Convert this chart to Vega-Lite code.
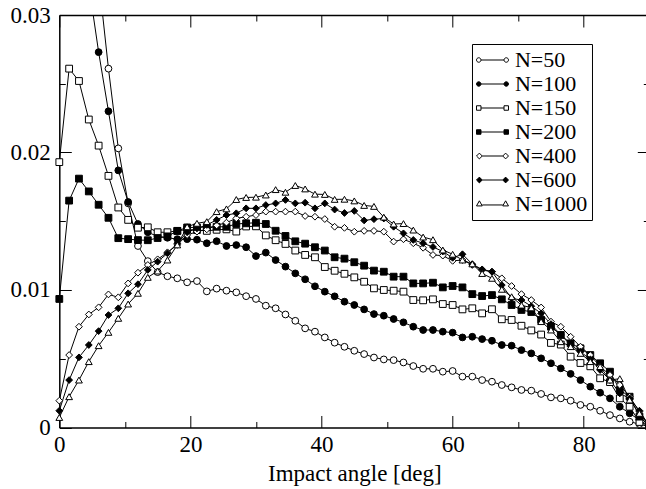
{
  "$schema": "https://vega.github.io/schema/vega-lite/v6.json",
  "width": 590,
  "height": 412.5,
  "autosize": {"type": "none"},
  "padding": {"left": 59.3, "top": 15, "right": 0, "bottom": 62},
  "background": "white",
  "data": {"values": [
    {"a":0,"N=50":0.060,"N=100":0.055,"N=150":0.0193,"N=200":0.00935,"N=400":0.00195,"N=600":0.00122,"N=1000":0.00073},
    {"a":1.5,"N=50":0.056,"N=100":0.050,"N=150":0.0261,"N=200":0.0165,"N=400":0.00527,"N=600":0.00345,"N=1000":0.00224},
    {"a":3,"N=50":0.050,"N=100":0.042,"N=150":0.0252,"N=200":0.0181,"N=400":0.00733,"N=600":0.0051,"N=1000":0.00345},
    {"a":4.5,"N=50":0.042,"N=100":0.0322,"N=150":0.0224,"N=200":0.01717,"N=400":0.00822,"N=600":0.006,"N=1000":0.00479},
    {"a":6,"N=50":0.0327,"N=100":0.0273,"N=150":0.0205,"N=200":0.0162,"N=400":0.00874,"N=600":0.00701,"N=1000":0.00595},
    {"a":7.5,"N=50":0.0261,"N=100":0.0230,"N=150":0.0183,"N=200":0.01525,"N=400":0.00968,"N=600":0.00818,"N=1000":0.00692},
    {"a":9,"N=50":0.0203,"N=100":0.0187,"N=150":0.0160,"N=200":0.01377,"N=400":0.00947,"N=600":0.00867,"N=1000":0.00794},
    {"a":10.5,"N=50":0.0163,"N=100":0.0164,"N=150":0.0151,"N=200":0.0137,"N=400":0.01048,"N=600":0.00976,"N=1000":0.00898},
    {"a":12,"N=50":0.0132,"N=100":0.0148,"N=150":0.01453,"N=200":0.01363,"N=400":0.01126,"N=600":0.01042,"N=1000":0.00976},
    {"a":13.5,"N=50":0.0121,"N=100":0.0142,"N=150":0.01456,"N=200":0.01362,"N=400":0.01182,"N=600":0.01146,"N=1000":0.01092},
    {"a":15,"N=50":0.0113,"N=100":0.0139,"N=150":0.0142,"N=200":0.01378,"N=400":0.01223,"N=600":0.01206,"N=1000":0.01138},
    {"a":16.5,"N=50":0.0110,"N=100":0.0138,"N=150":0.0142,"N=200":0.0139,"N=400":0.01274,"N=600":0.01267,"N=1000":0.01218},
    {"a":18,"N=50":0.01085,"N=100":0.0137,"N=150":0.0143,"N=200":0.0143,"N=400":0.01328,"N=600":0.0134,"N=1000":0.01328},
    {"a":19.5,"N=50":0.01056,"N=100":0.0137,"N=150":0.0144,"N=200":0.01455,"N=400":0.0140,"N=600":0.0142,"N=1000":0.0146},
    {"a":21,"N=50":0.01065,"N=100":0.01366,"N=150":0.01436,"N=200":0.01455,"N=400":0.01424,"N=600":0.01448,"N=1000":0.01485},
    {"a":22.5,"N=50":0.0099,"N=100":0.0134,"N=150":0.0143,"N=200":0.01458,"N=400":0.01441,"N=600":0.01473,"N=1000":0.01497},
    {"a":24,"N=50":0.0101,"N=100":0.01355,"N=150":0.01438,"N=200":0.0146,"N=400":0.0147,"N=600":0.0151,"N=1000":0.0157},
    {"a":25.5,"N=50":0.00995,"N=100":0.0132,"N=150":0.01441,"N=200":0.0146,"N=400":0.0149,"N=600":0.01545,"N=1000":0.0159},
    {"a":27,"N=50":0.00983,"N=100":0.01327,"N=150":0.01425,"N=200":0.0148,"N=400":0.01521,"N=600":0.01558,"N=1000":0.01658},
    {"a":28.5,"N=50":0.00955,"N=100":0.01311,"N=150":0.01462,"N=200":0.01485,"N=400":0.01533,"N=600":0.01594,"N=1000":0.01673},
    {"a":30,"N=50":0.00935,"N=100":0.01247,"N=150":0.01463,"N=200":0.01489,"N=400":0.01545,"N=600":0.01594,"N=1000":0.01675},
    {"a":31.5,"N=50":0.00886,"N=100":0.01272,"N=150":0.01397,"N=200":0.0148,"N=400":0.0157,"N=600":0.01618,"N=1000":0.01691},
    {"a":33,"N=50":0.00867,"N=100":0.01218,"N=150":0.01362,"N=200":0.01431,"N=400":0.0157,"N=600":0.0163,"N=1000":0.0173},
    {"a":34.5,"N=50":0.00822,"N=100":0.0117,"N=150":0.01335,"N=200":0.01393,"N=400":0.0157,"N=600":0.01655,"N=1000":0.01711},
    {"a":36,"N=50":0.00776,"N=100":0.01121,"N=150":0.01287,"N=200":0.01354,"N=400":0.0157,"N=600":0.0163,"N=1000":0.0176},
    {"a":37.5,"N=50":0.00721,"N=100":0.01078,"N=150":0.01255,"N=200":0.01337,"N=400":0.01538,"N=600":0.01635,"N=1000":0.01735},
    {"a":39,"N=50":0.00697,"N=100":0.01027,"N=150":0.01238,"N=200":0.01311,"N=400":0.01533,"N=600":0.01594,"N=1000":0.01697},
    {"a":40.5,"N=50":0.00655,"N=100":0.00988,"N=150":0.01167,"N=200":0.01287,"N=400":0.01516,"N=600":0.0163,"N=1000":0.01695},
    {"a":42,"N=50":0.00617,"N=100":0.00954,"N=150":0.0114,"N=200":0.01238,"N=400":0.0146,"N=600":0.01585,"N=1000":0.01659},
    {"a":43.5,"N=50":0.00587,"N=100":0.00915,"N=150":0.01118,"N=200":0.01228,"N=400":0.01452,"N=600":0.0156,"N=1000":0.0166},
    {"a":45,"N=50":0.00558,"N=100":0.00891,"N=150":0.01092,"N=200":0.01202,"N=400":0.01424,"N=600":0.01575,"N=1000":0.01648},
    {"a":46.5,"N=50":0.00534,"N=100":0.00859,"N=150":0.0106,"N=200":0.01177,"N=400":0.0143,"N=600":0.01506,"N=1000":0.01615},
    {"a":48,"N=50":0.00509,"N=100":0.00825,"N=150":0.01012,"N=200":0.01141,"N=400":0.0143,"N=600":0.01515,"N=1000":0.01608},
    {"a":49.5,"N=50":0.00495,"N=100":0.00813,"N=150":0.01,"N=200":0.01133,"N=400":0.01424,"N=600":0.0152,"N=1000":0.0153},
    {"a":51,"N=50":0.0049,"N=100":0.00789,"N=150":0.00995,"N=200":0.01097,"N=400":0.01352,"N=600":0.0146,"N=1000":0.0148},
    {"a":52.5,"N=50":0.00473,"N=100":0.00765,"N=150":0.00988,"N=200":0.01097,"N=400":0.01369,"N=600":0.01412,"N=1000":0.01483},
    {"a":54,"N=50":0.00447,"N=100":0.00733,"N=150":0.00927,"N=200":0.01048,"N=400":0.0134,"N=600":0.01364,"N=1000":0.01436},
    {"a":55.5,"N=50":0.00427,"N=100":0.00709,"N=150":0.00925,"N=200":0.01048,"N=400":0.01307,"N=600":0.0134,"N=1000":0.01385},
    {"a":57,"N=50":0.00427,"N=100":0.00709,"N=150":0.00932,"N=200":0.01053,"N=400":0.01255,"N=600":0.01313,"N=1000":0.01366},
    {"a":58.5,"N=50":0.00406,"N=100":0.00697,"N=150":0.00898,"N=200":0.01019,"N=400":0.0125,"N=600":0.0128,"N=1000":0.01291},
    {"a":60,"N=50":0.00411,"N=100":0.0069,"N=150":0.00891,"N=200":0.01029,"N=400":0.01212,"N=600":0.01234,"N=1000":0.0126},
    {"a":61.5,"N=50":0.0037,"N=100":0.00655,"N=150":0.00859,"N=200":0.01019,"N=400":0.01218,"N=600":0.0126,"N=1000":0.01218},
    {"a":63,"N=50":0.0037,"N=100":0.0066,"N=150":0.00867,"N=200":0.0097,"N=400":0.01182,"N=600":0.01188,"N=1000":0.0119},
    {"a":64.5,"N=50":0.00345,"N=100":0.00643,"N=150":0.0083,"N=200":0.00956,"N=400":0.01145,"N=600":0.0115,"N=1000":0.0112},
    {"a":66,"N=50":0.00333,"N=100":0.00631,"N=150":0.0086,"N=200":0.00963,"N=400":0.01133,"N=600":0.01133,"N=1000":0.01085},
    {"a":67.5,"N=50":0.00309,"N=100":0.006,"N=150":0.00787,"N=200":0.00932,"N=400":0.01085,"N=600":0.01036,"N=1000":0.01005},
    {"a":69,"N=50":0.00292,"N=100":0.00595,"N=150":0.00782,"N=200":0.00891,"N=400":0.01029,"N=600":0.00939,"N=1000":0.00951},
    {"a":70.5,"N=50":0.00273,"N=100":0.00563,"N=150":0.0074,"N=200":0.00855,"N=400":0.0097,"N=600":0.00927,"N=1000":0.0089},
    {"a":72,"N=50":0.00268,"N=100":0.00539,"N=150":0.00706,"N=200":0.0084,"N=400":0.00927,"N=600":0.00882,"N=1000":0.0087},
    {"a":73.5,"N=50":0.00244,"N=100":0.00503,"N=150":0.00676,"N=200":0.00782,"N=400":0.00873,"N=600":0.0083,"N=1000":0.0077},
    {"a":75,"N=50":0.00219,"N=100":0.00467,"N=150":0.00615,"N=200":0.00733,"N=400":0.0077,"N=600":0.00752,"N=1000":0.00709},
    {"a":76.5,"N=50":0.00212,"N=100":0.0043,"N=150":0.00603,"N=200":0.00673,"N=400":0.00733,"N=600":0.00673,"N=1000":0.00624},
    {"a":78,"N=50":0.00195,"N=100":0.0039,"N=150":0.00515,"N=200":0.00612,"N=400":0.0066,"N=600":0.006,"N=1000":0.00588},
    {"a":79.5,"N=50":0.00164,"N=100":0.00345,"N=150":0.00469,"N=200":0.00576,"N=400":0.00588,"N=600":0.00551,"N=1000":0.00539},
    {"a":81,"N=50":0.00151,"N=100":0.00297,"N=150":0.00445,"N=200":0.00527,"N=400":0.00527,"N=600":0.00495,"N=1000":0.00479},
    {"a":82.5,"N=50":0.00122,"N=100":0.00253,"N=150":0.00358,"N=200":0.00467,"N=400":0.00443,"N=600":0.00418,"N=1000":0.00443},
    {"a":84,"N=50":0.0009,"N=100":0.00212,"N=150":0.0033,"N=200":0.00406,"N=400":0.00382,"N=600":0.00345,"N=1000":0.00345},
    {"a":85.5,"N=50":0.00066,"N=100":0.00151,"N=150":0.00212,"N=200":0.00273,"N=400":0.00309,"N=600":0.00248,"N=1000":0.00355},
    {"a":87,"N=50":0.00042,"N=100":0.00103,"N=150":0.00151,"N=200":0.00224,"N=400":0.00224,"N=600":0.00212,"N=1000":0.002},
    {"a":88.5,"N=50":0.00025,"N=100":0.00054,"N=150":0.0004,"N=200":0.00079,"N=400":0.00115,"N=600":0.00122,"N=1000":0.00103},
    {"a":90,"N=50":0.00005,"N=100":0.0001,"N=150":0.0001,"N=200":0.0001,"N=400":0.0001,"N=600":0.0001,"N=1000":0.0001}
  ]},
  "transform": [
    {"fold": ["N=50","N=100","N=150","N=200","N=400","N=600","N=1000"], "as": ["series","p"]}
  ],
  "layer": [
    {
      "mark": {"type": "line", "color": "black", "strokeWidth": 1, "clip": true},
      "encoding": {
        "x": {"field": "a", "type": "quantitative",
          "scale": {"domain": [0, 90], "nice": false, "zero": false},
          "axis": {"orient": "bottom", "values": [0,10,20,30,40,50,60,70,80,90],
            "tickSize": {"condition": {"test": "datum.value % 20 === 0", "value": -12}, "value": -6},
            "labelExpr": "datum.value % 20 === 0 && datum.value < 90 ? datum.label : ''",
            "labelFont": "Times New Roman", "labelFontSize": 23, "labelColor": "black",
            "titleFont": "Times New Roman", "titleFontSize": 23, "titleFontWeight": "normal", "titleColor": "black",
            "labelPadding": 18, "labelFlush": false, "labelOverlap": false, "labelBound": false,
            "title": "Impact angle [deg]", "titlePadding": 0}},
        "y": {"field": "p", "type": "quantitative",
          "scale": {"domain": [0, 0.03], "nice": false, "zero": false},
          "axis": {"orient": "left", "values": [0,0.005,0.01,0.015,0.02,0.025,0.03],
            "tickSize": {"condition": {"test": "round(datum.value*1000) % 10 === 0", "value": -12}, "value": -6},
            "labelExpr": "round(datum.value*1000) % 10 === 0 ? format(datum.value, '.2~f') : ''",
            "labelFont": "Times New Roman", "labelFontSize": 23, "labelColor": "black",
            "labelPadding": 21, "labelFlush": false, "labelOverlap": false, "labelBound": false,
            "title": null}},
        "detail": {"field": "series", "type": "nominal"}
      }
    },
    {
      "transform": [{"filter": "datum.p <= 0.0302"}],
      "mark": {"type": "point", "stroke": "black", "strokeWidth": 1, "opacity": 1, "fillOpacity": 1},
      "encoding": {
        "x": {"field": "a", "type": "quantitative", "axis": null},
        "y": {"field": "p", "type": "quantitative", "axis": null},
        "shape": {"field": "series", "type": "nominal",
          "scale": {"domain": ["N=50","N=100","N=150","N=200","N=400","N=600","N=1000"],
            "range": ["circle","circle","square","square","diamond","diamond","triangle-up"]},
          "legend": null},
        "fill": {"field": "series", "type": "nominal",
          "scale": {"domain": ["N=50","N=100","N=150","N=200","N=400","N=600","N=1000"],
            "range": ["white","black","white","black","white","black","white"]},
          "legend": null},
        "size": {"field": "series", "type": "nominal",
          "scale": {"domain": ["N=50","N=100","N=150","N=200","N=400","N=600","N=1000"],
            "range": [46,46,44,44,70,70,60]},
          "legend": null}
      }
    },
    {
      "transform": [{"filter": "datum.a > 1000"}],
      "mark": {"type": "point", "opacity": 1, "size": 1024, "stroke": "black", "strokeWidth": 1, "fillOpacity": 1},
      "encoding": {
        "x": {"field": "a", "type": "quantitative",
          "axis": {"orient": "top", "values": [0,10,20,30,40,50,60,70,80,90],
            "tickSize": {"condition": {"test": "datum.value % 20 === 0", "value": -12}, "value": -6},
            "labels": false, "title": null}},
        "y": {"field": "p", "type": "quantitative",
          "axis": {"orient": "right", "values": [0,0.005,0.01,0.015,0.02,0.025,0.03],
            "tickSize": {"condition": {"test": "round(datum.value*1000) % 10 === 0", "value": -12}, "value": -6},
            "labels": false, "title": null}},
        "shape": {"field": "series", "type": "nominal",
          "scale": {"domain": ["N=50","N=100","N=150","N=200","N=400","N=600","N=1000"],
            "range": [
              "M-0.72,0L0.72,0M-1,0A0.14,0.14,0,1,0,-0.72,0A0.14,0.14,0,1,0,-1,0ZM0.72,0A0.14,0.14,0,1,0,1,0A0.14,0.14,0,1,0,0.72,0Z",
              "M-0.72,0L0.72,0M-1,0A0.14,0.14,0,1,0,-0.72,0A0.14,0.14,0,1,0,-1,0ZM0.72,0A0.14,0.14,0,1,0,1,0A0.14,0.14,0,1,0,0.72,0Z",
              "M-0.72,0L0.72,0M-1,-0.14L-0.72,-0.14L-0.72,0.14L-1,0.14ZM0.72,-0.14L1,-0.14L1,0.14L0.72,0.14Z",
              "M-0.72,0L0.72,0M-1,-0.14L-0.72,-0.14L-0.72,0.14L-1,0.14ZM0.72,-0.14L1,-0.14L1,0.14L0.72,0.14Z",
              "M-0.64,0L0.64,0M-1,0L-0.82,-0.18L-0.64,0L-0.82,0.18ZM0.64,0L0.82,-0.18L1,0L0.82,0.18Z",
              "M-0.64,0L0.64,0M-1,0L-0.82,-0.18L-0.64,0L-0.82,0.18ZM0.64,0L0.82,-0.18L1,0L0.82,0.18Z",
              "M-0.64,0.06L0.64,0.06M-1,0.12L-0.82,-0.2L-0.64,0.12ZM0.64,0.12L0.82,-0.2L1,0.12Z"
            ]},
          "legend": {"orient": "none", "legendX": 412.7, "legendY": 29, "title": null,
            "symbolOpacity": 1, "symbolSize": 1024, "symbolStrokeColor": "black", "symbolStrokeWidth": 1,
            "labelFont": "Times New Roman", "labelFontSize": 22, "labelColor": "black", "labelOffset": 6,
            "labelExpr": "datum.label + '\u00a0\u00a0\u00a0\u00a0'",
            "clipHeight": 24, "rowPadding": 0, "padding": 4, "strokeColor": "black", "fillColor": "white",
            "encode": {"symbols": {"update": {"stroke": {"value": "black"}, "strokeWidth": {"value": 1}, "strokeOpacity": {"value": 1}, "opacity": {"value": 1}}}}}},
        "fill": {"field": "series", "type": "nominal",
          "scale": {"domain": ["N=50","N=100","N=150","N=200","N=400","N=600","N=1000"],
            "range": ["white","black","white","black","white","black","white"]},
          "legend": {"orient": "none", "legendX": 412.7, "legendY": 29, "title": null,
            "symbolOpacity": 1, "symbolSize": 1024, "symbolStrokeColor": "black", "symbolStrokeWidth": 1,
            "labelFont": "Times New Roman", "labelFontSize": 22, "labelColor": "black", "labelOffset": 6,
            "labelExpr": "datum.label + '\u00a0\u00a0\u00a0\u00a0'",
            "clipHeight": 24, "rowPadding": 0, "padding": 4, "strokeColor": "black", "fillColor": "white",
            "encode": {"symbols": {"update": {"stroke": {"value": "black"}, "strokeWidth": {"value": 1}, "strokeOpacity": {"value": 1}, "opacity": {"value": 1}}}}}}
      }
    }
  ],
  "resolve": {
    "scale": {"shape": "independent", "fill": "independent", "size": "independent"},
    "axis": {"x": "independent", "y": "independent"}
  },
  "config": {
    "view": {"stroke": null},
    "axis": {
      "grid": false, "domainColor": "black", "domainWidth": 1.5, "tickColor": "black", "tickWidth": 1,
      "labelFont": "Times New Roman", "labelFontSize": 23, "labelColor": "black",
      "titleFont": "Times New Roman", "titleFontSize": 23, "titleFontWeight": "normal", "titleColor": "black"
    }
  }
}
